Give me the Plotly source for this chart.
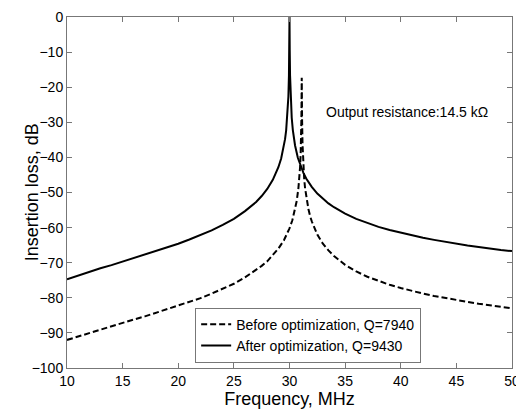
import plotly.graph_objects as go

# After optimization (solid), Q=9430
freq_after = [10, 11, 12, 13, 14, 15, 16, 17, 18, 19, 20, 21, 22, 23, 24, 25, 26, 26.5,
              27, 27.5, 28, 28.5, 29, 29.25, 29.4, 29.5, 29.6, 29.7, 29.85, 29.9, 29.95,
              29.98, 30.0, 30.02, 30.05, 30.1, 30.15, 30.2, 30.3, 30.4, 30.5, 30.75, 31,
              31.25, 31.5, 32, 32.5, 33, 33.5, 34, 35, 36, 37, 38, 39, 40, 41, 42, 43,
              44, 45, 46, 47, 48, 49, 50]
loss_after = [-74.7, -73.6, -72.6, -71.6, -70.7, -69.7, -68.7, -67.7, -66.7, -65.7,
              -64.6, -63.4, -62.2, -60.8, -59.2, -57.5, -55.3, -54.1, -52.7, -51.0,
              -49.0, -46.4, -42.8, -40.3, -38.3, -36.7, -34.8, -32.3, -26.2, -22.7,
              -16.7, -9.2, 0.0, -9.2, -16.7, -22.7, -26.2, -28.7, -32.2, -34.6, -36.6,
              -40.1, -42.5, -44.4, -46.0, -48.4, -50.3, -51.8, -53.1, -54.2, -56.0,
              -57.5, -58.7, -59.8, -60.7, -61.5, -62.2, -62.9, -63.5, -64.1, -64.6,
              -65.1, -65.5, -66.0, -66.4, -66.7]

# Before optimization (dashed), Q=7940
freq_before = [10, 11, 12, 13, 14, 15, 16, 17, 18, 19, 20, 21, 22, 23, 24, 25, 26, 27,
               27.5, 28, 28.5, 29, 29.5, 29.75, 30, 30.25, 30.5, 30.65, 30.8, 30.88,
               30.95, 31.0, 31.03, 31.07, 31.09, 31.1, 31.11, 31.13, 31.17, 31.2, 31.25,
               31.32, 31.4, 31.55, 31.7, 31.85, 32, 32.5, 33, 33.5, 34, 35, 36, 37, 38,
               39, 40, 41, 42, 43, 44, 45, 46, 47, 48, 49, 50]
loss_before = [-92.0, -91.0, -90.0, -89.0, -88.1, -87.1, -86.2, -85.3, -84.3, -83.3,
               -82.3, -81.2, -80.1, -78.8, -77.5, -76.0, -74.2, -72.1, -70.9, -69.6,
               -67.9, -66.0, -63.6, -62.1, -60.2, -58.0, -54.9, -52.4, -48.8, -46.1,
               -42.8, -39.3, -36.2, -29.1, -21.4, -17.3, -21.4, -29.1, -36.2, -39.3,
               -42.8, -46.1, -48.8, -52.3, -54.7, -56.7, -58.2, -62.0, -64.6, -66.5,
               -68.1, -70.6, -72.5, -74.0, -75.2, -76.3, -77.2, -78.1, -78.8, -79.5,
               -80.1, -80.7, -81.2, -81.7, -82.1, -82.6, -83.0]

names = ["Before optimization, Q=7940", "After optimization, Q=9430"]
annotation_text = "Output resistance:14.5 k\u03a9"
x_title = "Frequency, MHz"
y_title = "Insertion loss, dB"
x_ticks = [10, 15, 20, 25, 30, 35, 40, 45, 50]
y_ticks = [0, -10, -20, -30, -40, -50, -60, -70, -80, -90, -100]

FONT = "Arial, 'Liberation Sans', sans-serif"

fig = go.Figure()
fig.add_trace(go.Scatter(x=freq_before, y=loss_before, mode="lines", name=names[0],
                         line=dict(color="black", width=2, dash="6px,3px")))
fig.add_trace(go.Scatter(x=freq_after, y=loss_after, mode="lines", name=names[1],
                         line=dict(color="black", width=2)))

axis_common = dict(showline=True, linecolor="#777", linewidth=1, mirror="ticks",
                   ticks="inside", ticklen=5, tickcolor="#777", showgrid=False,
                   zeroline=False, automargin=False,
                   tickfont=dict(family=FONT, size=14, color="black"))

fig.update_xaxes(range=[10, 50], tickvals=x_ticks,
                 title=dict(text=x_title, font=dict(family=FONT, size=18, color="black"),
                            standoff=0),
                 **axis_common)
fig.update_yaxes(range=[-100, 0], tickvals=y_ticks, **axis_common)

# y-axis title placed as a rotated annotation for exact positioning
fig.add_annotation(x=-0.079, y=0.5, xref="paper", yref="paper", text=y_title,
                   textangle=-90, showarrow=False, xanchor="center", yanchor="middle",
                   font=dict(family=FONT, size=18, color="black"))

fig.add_annotation(x=33.1, y=-27, xref="x", yref="y", text=annotation_text,
                   showarrow=False, xanchor="left", yanchor="middle",
                   font=dict(family=FONT, size=14, color="black"))

fig.update_layout(
    width=516, height=403,
    margin=dict(l=59, r=12, t=9, b=43),
    paper_bgcolor="white", plot_bgcolor="white",
    font=dict(family=FONT, size=14, color="black"),
    legend=dict(x=0.288, y=0.172, xanchor="left", yanchor="top",
                bordercolor="#777", borderwidth=1, bgcolor="white",
                font=dict(family=FONT, size=14, color="black"),
                tracegroupgap=0, itemwidth=30),
    showlegend=True,
)

fig.write_html("out.html")
